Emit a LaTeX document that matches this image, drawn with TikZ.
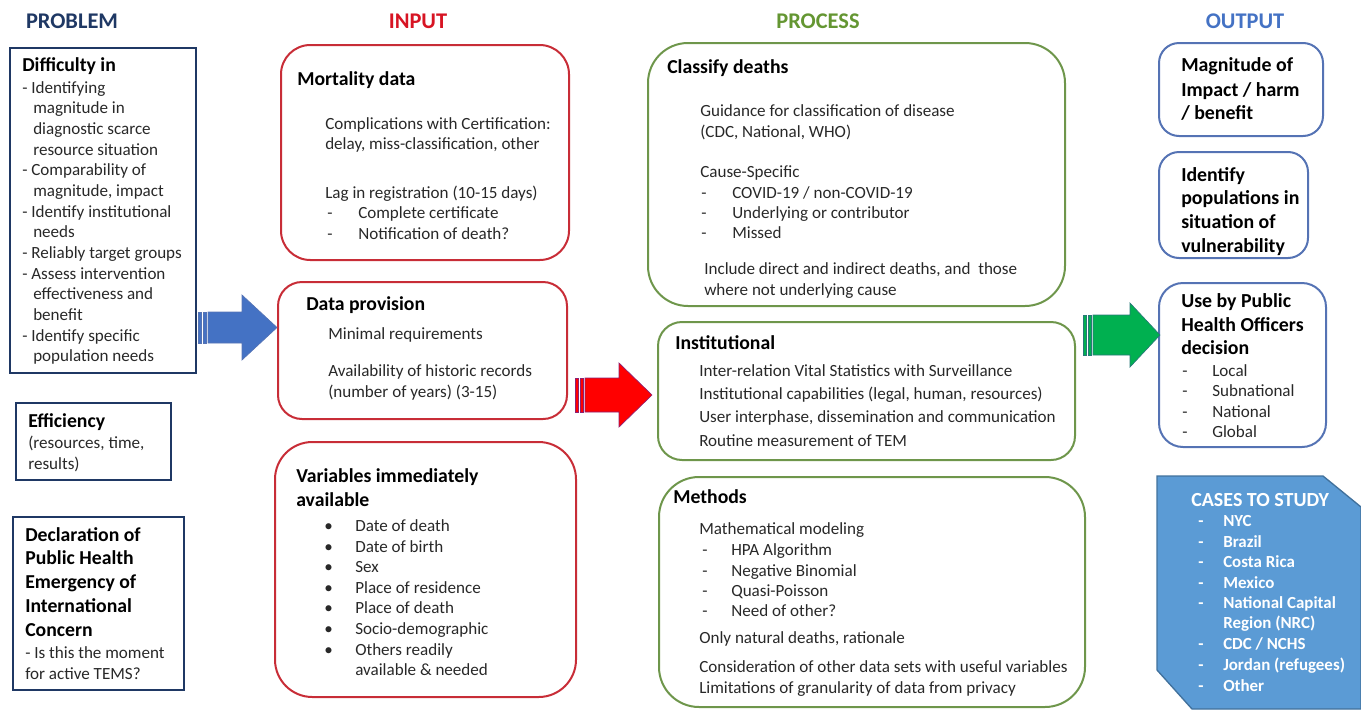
\documentclass[tikz,border=0pt]{standalone}
\usepackage{fontspec}
\setmainfont{Carlito}
\definecolor{navy}{RGB}{31,56,100}
\definecolor{inred}{RGB}{215,20,35}
\definecolor{boxred}{RGB}{200,45,55}
\definecolor{procgreen}{RGB}{100,150,50}
\definecolor{boxgreen}{RGB}{110,150,75}
\definecolor{outblue}{RGB}{68,114,196}
\definecolor{boxblue}{RGB}{85,115,180}
\definecolor{casefill}{RGB}{91,155,213}
\definecolor{caseline}{RGB}{65,113,156}
\definecolor{bodytxt}{RGB}{40,40,40}
\tikzset{
  hdr/.style={anchor=base, inner sep=0pt, yshift=-4.8pt, font=\fontsize{16.8}{19}\selectfont\bfseries},
  body/.style={anchor=base west, inner sep=0pt, yshift=-4.1pt, text=bodytxt, font=\fontsize{12.8}{15}\selectfont},
  prob/.style={anchor=base west, inner sep=0pt, yshift=-4.1pt, text=bodytxt, font=\fontsize{12.8}{15}\selectfont},
  ttl/.style={anchor=base west, inner sep=0pt, yshift=-4.7pt, text=black, font=\fontsize{14.8}{17}\selectfont\bfseries},
  obold/.style={anchor=base west, inner sep=0pt, yshift=-4.8pt, text=black, font=\fontsize{14.9}{17}\selectfont\bfseries},
  casettl/.style={anchor=base west, inner sep=0pt, yshift=-4.6pt, text=white, font=\fontsize{15}{17}\selectfont\bfseries},
  casetxt/.style={anchor=base west, inner sep=0pt, yshift=-4.0pt, text=white, font=\fontsize{12.7}{15}\selectfont\bfseries},
  probbox/.style={draw=navy, line width=1.5pt, rectangle, inner sep=0pt},
  inbox/.style={draw=boxred, line width=1.5pt, rectangle, rounded corners=#1, inner sep=0pt},
  procbox/.style={draw=boxgreen, line width=1.5pt, rectangle, rounded corners=#1, inner sep=0pt},
  outbox/.style={draw=boxblue, line width=1.5pt, rectangle, rounded corners=#1, inner sep=0pt},
}
\newcounter{tn}
\newcommand\Tx[4]{\stepcounter{tn}\node[#1] (t\arabic{tn}) at (#2,#3) {#4};}
\newcommand\Bx[6]{\node[#1, minimum width={(#4-#2)*0.75pt}, minimum height={(#5-#3)*0.75pt}] (#6) at ({(#2+#4)/2},{(#3+#5)/2}) {};}
% striped arrow: x0 xbase xtip bodytop bodybot headtop headbot fill line
\newcommand\SArrow[9]{%
  \filldraw[fill=#8, draw=#9, line width=0.5pt] ({#1+10},#4) -- (#2,#4) -- (#2,#6) -- (#3,{(#4+#5)/2}) -- (#2,#7) -- (#2,#5) -- ({#1+10},#5) -- cycle;
  \filldraw[fill=#8, draw=#9, line width=0.5pt] (#1,#4) rectangle ({#1+3.5},#5);
  \filldraw[fill=#8, draw=#9, line width=0.5pt] ({#1+5},#4) rectangle ({#1+8.5},#5);
}
\begin{document}
\begin{tikzpicture}[x=0.75pt,y=-0.75pt]
\useasboundingbox (0,0) rectangle (1361,711);
% headers
\node[hdr, text=navy] (hproblem) at (72,22) {PROBLEM};
\node[hdr, text=inred] (hinput) at (418,22) {INPUT};
\node[hdr, text=procgreen] (hprocess) at (818,22) {PROCESS};
\node[hdr, text=outblue] (houtput) at (1245,22) {OUTPUT};

% boxes
\Bx{probbox}{10}{48}{196}{373}{pdiff}
\Bx{probbox}{16}{403}{171}{480}{peff}
\Bx{probbox}{13}{517}{184}{690}{pdecl}
\Bx{inbox=22pt}{281}{45}{569}{260}{imort}
\Bx{inbox=18pt}{278}{282}{567}{419}{iprov}
\Bx{inbox=28pt}{275}{442}{576}{697}{ivar}
\Bx{procbox=30pt}{648}{43}{1065}{306}{pclass}
\Bx{procbox=18pt}{658}{322}{1075}{460}{pinst}
\Bx{procbox=30pt}{659}{477}{1085}{707}{pmeth}
\Bx{outbox=15pt}{1159}{43}{1323}{136}{omag}
\Bx{outbox=15pt}{1159}{152}{1308}{258}{oiden}
\Bx{outbox=18pt}{1159}{283}{1326}{447}{ouse}

% arrows
\SArrow{198}{242}{277}{312}{343}{295}{360}{outblue}{boxblue}
\SArrow{575}{619}{652}{378}{412}{363}{427}{red}{boxred!70!blue}
\SArrow{1083}{1130}{1160}{315}{355}{303}{367}{{rgb,255:red,0;green,176;blue,80}}{{rgb,255:red,40;green,120;blue,120}}

% cases shape
\filldraw[fill=casefill, draw=caseline, line width=1pt] (1157,476) -- (1323,476) -- (1361,507) -- (1361,709) -- (1192,709) -- (1157,670) -- cycle;
\coordinate (cases) at (1259,592);

% PROBLEM texts
\Tx{ttl}{22}{65}{Difficulty in}
\Tx{prob}{22}{88}{- Identifying}
\Tx{prob}{33}{108}{magnitude in}
\Tx{prob}{33}{129}{diagnostic scarce}
\Tx{prob}{33}{150}{resource situation}
\Tx{prob}{22}{170}{- Comparability of}
\Tx{prob}{33}{191}{magnitude, impact}
\Tx{prob}{22}{212}{- Identify institutional}
\Tx{prob}{33}{232}{needs}
\Tx{prob}{22}{253}{- Reliably target groups}
\Tx{prob}{22}{274}{- Assess intervention}
\Tx{prob}{33}{294}{effectiveness and}
\Tx{prob}{33}{315}{benefit}
\Tx{prob}{22}{336}{- Identify specific}
\Tx{prob}{33}{356}{population needs}

\Tx{ttl}{28}{421}{Efficiency}
\Tx{prob}{28}{443}{(resources, time,}
\Tx{prob}{28}{464}{results)}

\Tx{ttl}{25}{535}{Declaration of}
\Tx{ttl}{25}{558}{Public Health}
\Tx{ttl}{25}{582}{Emergency of}
\Tx{ttl}{25}{606}{International}
\Tx{ttl}{25}{630}{Concern}
\Tx{prob}{25}{653}{- Is this the moment}
\Tx{prob}{25}{674}{for active TEMS?}

% INPUT texts
\Tx{ttl}{297}{79}{Mortality data}
\Tx{body}{325}{124}{Complications with Certification:}
\Tx{body}{325}{144}{delay, miss-classification, other}
\Tx{body}{325}{193}{Lag in registration (10-15 days)}
\Tx{body}{327}{213}{-}
\Tx{body}{358}{213}{Complete certificate}
\Tx{body}{327}{234}{-}
\Tx{body}{358}{234}{Notification of death?}

\Tx{ttl}{306}{304}{Data provision}
\Tx{body}{328}{334}{Minimal requirements}
\Tx{body}{328}{371}{Availability of historic records}
\Tx{body}{328}{392}{(number of years) (3-15)}

\Tx{ttl}{296}{476}{Variables immediately}
\Tx{ttl}{296}{500}{available}
\Tx{body}{324}{526}{\textbullet}
\Tx{body}{355}{526}{Date of death}
\Tx{body}{324}{547}{\textbullet}
\Tx{body}{355}{547}{Date of birth}
\Tx{body}{324}{567}{\textbullet}
\Tx{body}{355}{567}{Sex}
\Tx{body}{324}{588}{\textbullet}
\Tx{body}{355}{588}{Place of residence}
\Tx{body}{324}{608}{\textbullet}
\Tx{body}{355}{608}{Place of death}
\Tx{body}{324}{629}{\textbullet}
\Tx{body}{355}{629}{Socio-demographic}
\Tx{body}{324}{650}{\textbullet}
\Tx{body}{355}{650}{Others readily}
\Tx{body}{355}{670}{available \& needed}

% PROCESS texts
\Tx{ttl}{667}{67}{Classify deaths}
\Tx{body}{700}{111}{Guidance for classification of disease}
\Tx{body}{700}{132}{(CDC, National, WHO)}
\Tx{body}{700}{172}{Cause-Specific}
\Tx{body}{701}{193}{-}
\Tx{body}{732}{193}{COVID-19 / non-COVID-19}
\Tx{body}{701}{213}{-}
\Tx{body}{732}{213}{Underlying or contributor}
\Tx{body}{701}{233}{-}
\Tx{body}{732}{233}{Missed}
\Tx{body}{704}{269}{Include direct and indirect deaths, and\ \ those}
\Tx{body}{704}{290}{where not underlying cause}

\Tx{ttl}{675}{343}{Institutional}
\Tx{body}{699}{371}{Inter-relation Vital Statistics with Surveillance}
\Tx{body}{699}{394}{Institutional capabilities (legal, human, resources)}
\Tx{body}{699}{417}{User interphase, dissemination and communication}
\Tx{body}{699}{441}{Routine measurement of TEM}

\Tx{ttl}{673}{497}{Methods}
\Tx{body}{699}{529}{Mathematical modeling}
\Tx{body}{702}{550}{-}
\Tx{body}{731}{550}{HPA Algorithm}
\Tx{body}{702}{571}{-}
\Tx{body}{731}{571}{Negative Binomial}
\Tx{body}{702}{591}{-}
\Tx{body}{731}{591}{Quasi-Poisson}
\Tx{body}{702}{611}{-}
\Tx{body}{731}{611}{Need of other?}
\Tx{body}{699}{638}{Only natural deaths, rationale}
\Tx{body}{699}{667}{Consideration of other data sets with useful variables}
\Tx{body}{699}{688}{Limitations of granularity of data from privacy}

% OUTPUT texts
\Tx{obold}{1181}{65}{Magnitude of}
\Tx{obold}{1181}{90}{Impact / harm}
\Tx{obold}{1181}{113}{/ benefit}
\Tx{obold}{1181}{175}{Identify}
\Tx{obold}{1181}{198}{populations in}
\Tx{obold}{1181}{222}{situation of}
\Tx{obold}{1181}{246}{vulnerability}
\Tx{obold}{1181}{301}{Use by Public}
\Tx{obold}{1181}{325}{Health Officers}
\Tx{obold}{1181}{348}{decision}
\Tx{body}{1182}{371}{-}
\Tx{body}{1212}{371}{Local}
\Tx{body}{1182}{391}{-}
\Tx{body}{1212}{391}{Subnational}
\Tx{body}{1182}{412}{-}
\Tx{body}{1212}{412}{National}
\Tx{body}{1182}{432}{-}
\Tx{body}{1212}{432}{Global}

% CASES texts
\Tx{casettl}{1191}{500}{CASES TO STUDY}
\Tx{casetxt}{1198}{521}{-}
\Tx{casetxt}{1223}{521}{NYC}
\Tx{casetxt}{1198}{542}{-}
\Tx{casetxt}{1223}{542}{Brazil}
\Tx{casetxt}{1198}{562}{-}
\Tx{casetxt}{1223}{562}{Costa Rica}
\Tx{casetxt}{1198}{583}{-}
\Tx{casetxt}{1223}{583}{Mexico}
\Tx{casetxt}{1198}{603}{-}
\Tx{casetxt}{1223}{603}{National Capital}
\Tx{casetxt}{1223}{623}{Region (NRC)}
\Tx{casetxt}{1198}{644}{-}
\Tx{casetxt}{1223}{644}{CDC / NCHS}
\Tx{casetxt}{1198}{665}{-}
\Tx{casetxt}{1223}{665}{Jordan (refugees)}
\Tx{casetxt}{1198}{686}{-}
\Tx{casetxt}{1223}{686}{Other}
\end{tikzpicture}
\end{document}
